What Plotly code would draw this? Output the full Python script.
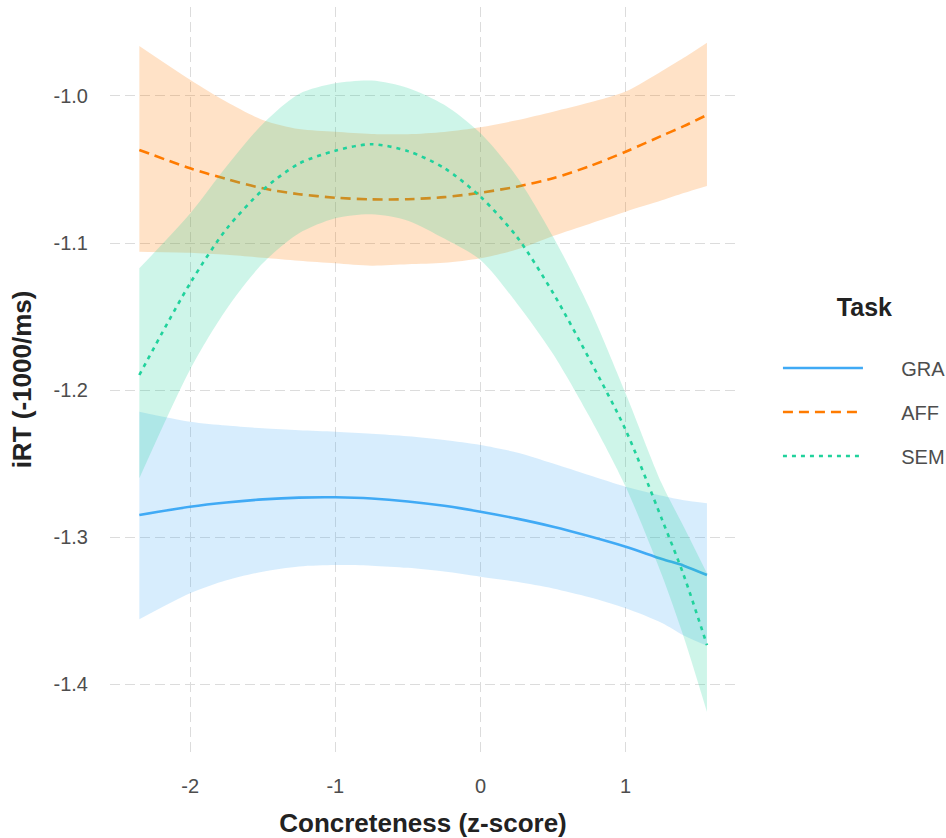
import plotly.graph_objects as go

# Predicted iRT by concreteness (quadratic fits) with confidence ribbons, per task
concreteness = [-2.35, -2.0, -1.75, -1.5, -1.25, -1.0, -0.75, -0.5, -0.25,
                0.0, 0.25, 0.5, 0.75, 1.0, 1.25, 1.4, 1.56]

gra_fit = [-1.2850, -1.2794, -1.2765, -1.2744, -1.2732, -1.2730, -1.2738, -1.2758, -1.2788,
           -1.2828, -1.2875, -1.2930, -1.2995, -1.3066, -1.3150, -1.3195, -1.3259]
gra_lower = [-1.3560, -1.3383, -1.3295, -1.3236, -1.3200, -1.3190, -1.3195, -1.3210, -1.3235,
             -1.3270, -1.3305, -1.3350, -1.3410, -1.3485, -1.3585, -1.3670, -1.3740]
gra_upper = [-1.2148, -1.2216, -1.2242, -1.2261, -1.2274, -1.2284, -1.2298, -1.2315, -1.2340,
             -1.2374, -1.2425, -1.2500, -1.2580, -1.2658, -1.2720, -1.2750, -1.2771]

aff_fit = [-1.0367, -1.0492, -1.0565, -1.0628, -1.0668, -1.0692, -1.0703, -1.0702, -1.0688,
           -1.0658, -1.0617, -1.0560, -1.0478, -1.0379, -1.0270, -1.0205, -1.0129]
aff_lower = [-1.1059, -1.1066, -1.1080, -1.1100, -1.1120, -1.1138, -1.1154, -1.1145, -1.1135,
             -1.1104, -1.1045, -1.0952, -1.0870, -1.0787, -1.0710, -1.0660, -1.0612]
aff_upper = [-0.9660, -0.9890, -1.0040, -1.0163, -1.0225, -1.0243, -1.0258, -1.0260, -1.0245,
             -1.0213, -1.0165, -1.0107, -1.0045, -0.9970, -0.9830, -0.9740, -0.9637]

sem_fit = [-1.1898, -1.1274, -1.0905, -1.0640, -1.0460, -1.0372, -1.0328, -1.0375, -1.0490,
           -1.0685, -1.0957, -1.1340, -1.1790, -1.2272, -1.2880, -1.3260, -1.3735]
sem_lower = [-1.2600, -1.1860, -1.1450, -1.1138, -1.0934, -1.0832, -1.0805, -1.0848, -1.0970,
             -1.1116, -1.1410, -1.1755, -1.2180, -1.2658, -1.3260, -1.3680, -1.4190]
sem_upper = [-1.1172, -1.0800, -1.0480, -1.0190, -0.9986, -0.9914, -0.9895, -0.9945, -1.0060,
             -1.0254, -1.0549, -1.0957, -1.1440, -1.2023, -1.2640, -1.2930, -1.3247]

tasks = ["GRA", "AFF", "SEM"]
fits = {"GRA": gra_fit, "AFF": aff_fit, "SEM": sem_fit}
lowers = {"GRA": gra_lower, "AFF": aff_lower, "SEM": sem_lower}
uppers = {"GRA": gra_upper, "AFF": aff_upper, "SEM": sem_upper}

x_ticks = [-2, -1, 0, 1]
x_tick_labels = ["-2", "-1", "0", "1"]
y_ticks = [-1.4, -1.3, -1.2, -1.1, -1.0]
y_tick_labels = ["-1.4", "-1.3", "-1.2", "-1.1", "-1.0"]

line_colors = {"GRA": "#40AAF5", "AFF": "#FF7B00", "SEM": "#20D29C"}
ribbon_colors = {"GRA": "rgba(64,170,245,0.21)",
                 "AFF": "rgba(255,123,0,0.22)",
                 "SEM": "rgba(32,210,156,0.22)"}
line_dashes = {"GRA": "solid", "AFF": "10px,6px", "SEM": "4px,5px"}

FONT = "Liberation Sans, Arial, sans-serif"
LABEL_PAD = "\u00a0" * 6  # space between legend key and its label

fig = go.Figure()
for task in tasks:
    fig.add_trace(go.Scatter(
        x=concreteness, y=lowers[task], mode="lines",
        line=dict(width=0, shape="spline", smoothing=0.8),
        hoverinfo="skip", showlegend=False, legendgroup=task))
    fig.add_trace(go.Scatter(
        x=concreteness, y=uppers[task], mode="lines",
        line=dict(width=0, shape="spline", smoothing=0.8),
        fill="tonexty", fillcolor=ribbon_colors[task],
        hoverinfo="skip", showlegend=False, legendgroup=task))
    fig.add_trace(go.Scatter(
        x=concreteness, y=fits[task], mode="lines", name=LABEL_PAD + task,
        line=dict(color=line_colors[task], width=2.6, dash=line_dashes[task],
                  shape="spline", smoothing=0.8),
        legendgroup=task))

grid_style = dict(showgrid=True, gridcolor="#DCDCDC", gridwidth=1.2, griddash="10px,5px",
                  zeroline=False, showline=False)

fig.update_layout(
    width=946, height=838,
    margin=dict(l=110, r=210, t=7, b=86, autoexpand=False),
    paper_bgcolor="white", plot_bgcolor="white",
    font=dict(family=FONT, color="#4D4D4D", size=20),
    xaxis=dict(range=[-2.552, 1.760], tickvals=x_ticks, ticktext=x_tick_labels,
               ticks="outside", ticklen=16, tickcolor="rgba(0,0,0,0)",
               tickfont=dict(size=20, color="#4D4D4D"),
               title=dict(text="<b>Concreteness (z-score)</b>", standoff=18,
                          font=dict(size=26, color="#222222")),
               **grid_style),
    yaxis=dict(range=[-1.44626, -0.93946], tickvals=y_ticks, ticktext=y_tick_labels,
               ticks="outside", ticklen=17, tickcolor="rgba(0,0,0,0)",
               tickfont=dict(size=20, color="#4D4D4D"),
               title=dict(text="<b>iRT (-1000/ms)</b>", standoff=14,
                          font=dict(size=26, color="#222222")),
               **grid_style),
    legend=dict(
        x=1.067, xanchor="left", y=0.5, yanchor="middle",
        title=dict(text="<b>Task</b><br> ", side="top center",
                   font=dict(size=25, color="#222222")),
        font=dict(size=20, color="#4D4D4D"),
        itemwidth=80, tracegroupgap=15, bgcolor="rgba(0,0,0,0)"),
)

fig.write_html("out.html")
